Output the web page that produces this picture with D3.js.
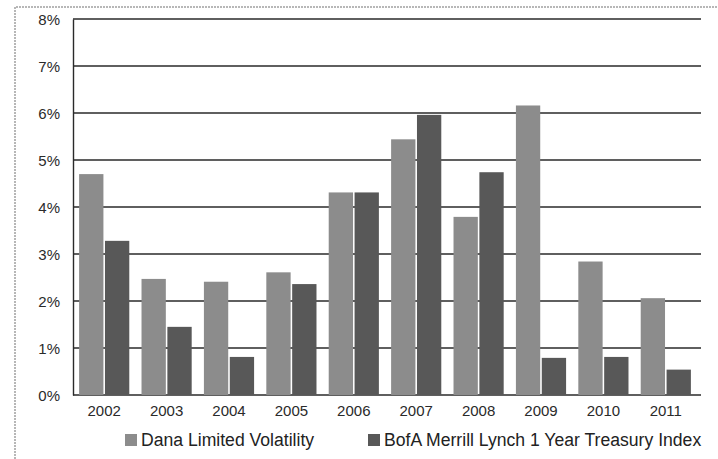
<!DOCTYPE html>
<html>
<head>
<meta charset="utf-8">
<script src="https://cdn.jsdelivr.net/npm/d3@7"></script>
<style>
  html, body { margin: 0; padding: 0; background: #ffffff; }
  svg { display: block; font-family: "Liberation Sans", Arial, sans-serif; }
</style>
</head>
<body>
<svg id="chart" width="718" height="459"></svg>
<script>
// Annual returns, in percent
const years = ["2002", "2003", "2004", "2005", "2006", "2007", "2008", "2009", "2010", "2011"];
const seriesNames = ["Dana Limited Volatility", "BofA Merrill Lynch 1 Year Treasury Index"];
const danaValues = [4.70, 2.47, 2.41, 2.61, 4.31, 5.44, 3.79, 6.16, 2.84, 2.06];
const bofaValues = [3.28, 1.45, 0.81, 2.36, 4.31, 5.96, 4.74, 0.79, 0.81, 0.54];
const yTicks = [0, 1, 2, 3, 4, 5, 6, 7, 8];
const seriesColors = ["#8c8c8c", "#585858"];

const svg = d3.select("#chart");

const plot = { left: 73, right: 697, top: 19, bottom: 395 };

// page frame
svg.append("path")
  .attr("d", "M15,459 V7 H718")
  .attr("fill", "none")
  .attr("stroke", "#a0a0a0")
  .attr("stroke-width", 1.5)
  .attr("stroke-dasharray", "2,1");

const x = d3.scaleBand()
  .domain(years)
  .range([plot.left, plot.right])
  .paddingInner(0.196)
  .paddingOuter(0.098);

const xInner = d3.scaleBand()
  .domain(seriesNames)
  .range([0, x.bandwidth()])
  .paddingInner(0.06);

const y = d3.scaleLinear()
  .domain([0, 8])
  .range([plot.bottom, plot.top]);

// horizontal gridlines
svg.append("g")
  .selectAll("line")
  .data(yTicks)
  .join("line")
  .attr("x1", plot.left)
  .attr("x2", plot.right + 4)
  .attr("y1", d => y(d))
  .attr("y2", d => y(d))
  .attr("stroke", "#2a2a2a")
  .attr("stroke-width", 1.4);

// bars
const rows = years.map((yr, i) => ({ year: yr, values: [danaValues[i], bofaValues[i]] }));

const groups = svg.append("g")
  .selectAll("g")
  .data(rows)
  .join("g")
  .attr("transform", d => `translate(${x(d.year)},0)`);

groups.selectAll("rect")
  .data(d => d.values.map((v, k) => ({ name: seriesNames[k], value: v, k })))
  .join("rect")
  .attr("x", d => xInner(d.name))
  .attr("width", xInner.bandwidth())
  .attr("y", d => y(d.value))
  .attr("height", d => y(0) - y(d.value))
  .attr("fill", d => seriesColors[d.k]);

// axes
const yAxis = svg.append("g")
  .attr("transform", `translate(${plot.left},0)`)
  .call(d3.axisLeft(y).tickValues(yTicks).tickFormat(d => d + "%").tickSize(0).tickPadding(13));
yAxis.select(".domain").attr("stroke", "#2a2a2a").attr("stroke-width", 1.4);
yAxis.selectAll("text")
  .attr("font-size", 15)
  .attr("fill", "#2a2a2a")
  .attr("dy", "0.36em")
  .attr("font-family", "Liberation Sans, Arial, sans-serif");

const xAxis = svg.append("g")
  .attr("transform", `translate(0,${plot.bottom})`)
  .call(d3.axisBottom(x).tickSize(0).tickPadding(10));
xAxis.select(".domain").remove();
xAxis.selectAll("text")
  .attr("font-size", 15)
  .attr("fill", "#2a2a2a")
  .attr("font-family", "Liberation Sans, Arial, sans-serif");

// legend
const legendItems = [
  { name: seriesNames[0], color: seriesColors[0], x: 125 },
  { name: seriesNames[1], color: seriesColors[1], x: 368 }
];
const legend = svg.append("g")
  .selectAll("g")
  .data(legendItems)
  .join("g")
  .attr("transform", d => `translate(${d.x},440)`);
legend.append("rect")
  .attr("x", 0)
  .attr("y", -6)
  .attr("width", 12)
  .attr("height", 12)
  .attr("fill", d => d.color);
legend.append("text")
  .attr("x", 16)
  .attr("y", 0)
  .attr("dy", "0.36em")
  .attr("font-size", 17.6)
  .attr("fill", "#222")
  .text(d => d.name);
</script>
</body>
</html>
